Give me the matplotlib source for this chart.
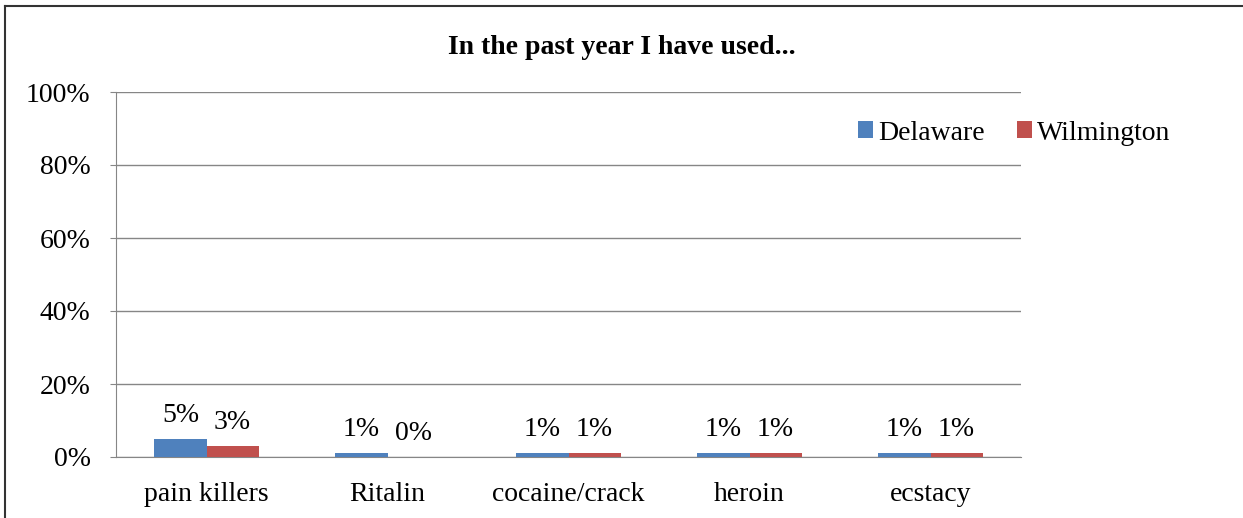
import matplotlib.pyplot as plt
from matplotlib.lines import Line2D
import numpy as np

categories = ['pain killers', 'Ritalin', 'cocaine/crack', 'heroin', 'ecstacy']
delaware = [5, 1, 1, 1, 1]
wilmington = [3, 0, 1, 1, 1]
series_names = ['Delaware', 'Wilmington']
colors = ['#4F81BD', '#C0504D']

serif = ['Liberation Serif', 'DejaVu Serif']

fig = plt.figure(figsize=(12.43, 5.18), dpi=100)
ax = fig.add_axes([116 / 1243, 1 - 457 / 518, (1021 - 116) / 1243, (457 - 92) / 518])

x = np.arange(len(categories))
w = 0.2873
b1 = ax.bar(x - w / 2, delaware, w, color=colors[0], label=series_names[0], zorder=3)
b2 = ax.bar(x + w / 2, wilmington, w, color=colors[1], label=series_names[1], zorder=3)

for bars, vals in ((b1, delaware), (b2, wilmington)):
    for rect, v in zip(bars, vals):
        ax.annotate(f'{v}%', (rect.get_x() + rect.get_width() / 2, v),
                    xytext=(0, 8), textcoords='offset points',
                    ha='center', va='bottom', fontsize=20, family=serif)

ax.set_xlim(-0.5, len(categories) - 0.5)
ax.set_ylim(0, 100)
ax.set_yticks(np.arange(0, 101, 20))
ax.set_yticklabels([f'{t}%' for t in range(0, 101, 20)], fontsize=20, family=serif)
ax.set_xticks(x)
ax.set_xticklabels(categories, fontsize=20, family=serif)
ax.tick_params(axis='x', length=0, pad=18)
ax.tick_params(axis='y', length=4.3, color='#868686', pad=14)
ax.yaxis.grid(True, color='#868686', linewidth=1, zorder=0)

for side in ('top', 'right'):
    ax.spines[side].set_visible(False)
for side in ('left', 'bottom'):
    ax.spines[side].set_color('#868686')

fig.text(0.5, 1 - 47 / 518, 'In the past year I have used...', ha='center', va='center',
         fontsize=20, fontweight='bold', family=serif)

fig.legend(handles=[b1, b2], labels=series_names, loc='center left',
           bbox_to_anchor=(833 / 1243, 1 - 133 / 518), ncol=2, frameon=False,
           prop={'family': serif, 'size': 20}, handlelength=0.55, handleheight=0.55,
           handletextpad=0.18, columnspacing=1.15)

# outer chart border (top and left edges visible)
fig.add_artist(Line2D([5 / 1243, 5 / 1243], [0, 1 - 6 / 518], transform=fig.transFigure,
                      color='#333333', linewidth=1.5))
fig.add_artist(Line2D([5 / 1243, 1], [1 - 6 / 518, 1 - 6 / 518], transform=fig.transFigure,
                      color='#333333', linewidth=1.5))

fig.savefig('out.png', dpi=100)
